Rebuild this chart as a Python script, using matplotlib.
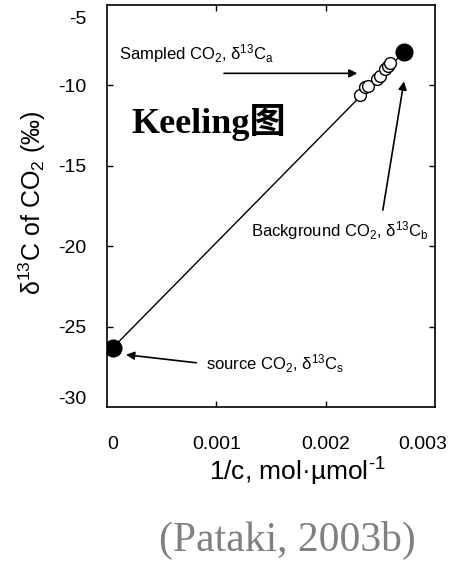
import matplotlib
matplotlib.use("Agg")
import matplotlib.pyplot as plt
from matplotlib.transforms import ScaledTranslation

plt.rcParams["font.family"] = ["Liberation Sans", "DejaVu Sans"]
plt.rcParams["mathtext.fontset"] = "custom"
plt.rcParams["mathtext.rm"] = "Liberation Sans"
plt.rcParams["mathtext.it"] = "Liberation Sans:italic"
plt.rcParams["mathtext.bf"] = "Liberation Sans:bold"

# Keeling plot: inverse concentration vs. isotope ratio
source_x = [0.000055]
source_y = [-26.3]
background_x = [0.00272]
background_y = [-7.9]
sample_x = [0.00231, 0.00236, 0.00239, 0.00247, 0.00250, 0.00254, 0.00257, 0.00259]
sample_y = [-10.6, -10.1, -10.05, -9.6, -9.4, -9.0, -8.8, -8.6]

xticks = [0, 0.001, 0.002, 0.003]
xtick_labels = ["0", "0.001", "0.002", "0.003"]
yticks = [-30, -25, -20, -15, -10, -5]
ytick_labels = ["-30", "-25", "-20", "-15", "-10", "-5"]

fig = plt.figure(figsize=(4.52, 5.66), dpi=100)
W, H = 452, 566
ax = fig.add_axes([107 / W, 1 - 407 / H, 328 / W, 402 / H])

# mixing line from source to background
ax.plot(source_x + background_x, source_y + background_y, color="black", lw=1, zorder=1)
ax.plot(sample_x, sample_y, "o", ms=8.5, mfc="white", mec="black", mew=1, zorder=2)
ax.plot(source_x + background_x, source_y + background_y, "o", ms=12,
        color="black", lw=0, zorder=3)

ax.set_xlim(0, 0.003)
ax.set_ylim(-30, -5)
ax.set_xticks(xticks, xtick_labels)
ax.set_yticks(yticks, ytick_labels)
ax.tick_params(direction="in", length=4, width=1, labelsize=14,
               top=True, right=True)
ax.tick_params(axis="x", pad=21)
ax.tick_params(axis="y", pad=15)
for s in ax.spines.values():
    s.set_linewidth(1.2)

# nudge end labels inward
fig.canvas.draw()
xl = ax.get_xticklabels()
yl = ax.get_yticklabels()
def shift(lab, dx, dy):
    lab.set_transform(lab.get_transform() + ScaledTranslation(dx / 72, dy / 72, fig.dpi_scale_trans))
shift(xl[0], 4, 0)
shift(xl[-1], -9, 0)
shift(yl[0], 0, 7)
shift(yl[-1], 0, -9)
# hide ticks coinciding with the spines
for t in ax.xaxis.get_major_ticks():
    if t.get_loc() in (0, 0.003):
        t.tick1line.set_visible(False)
        t.tick2line.set_visible(False)
for t in ax.yaxis.get_major_ticks():
    if t.get_loc() in (-30, -5):
        t.tick1line.set_visible(False)
        t.tick2line.set_visible(False)

fig.text(32 / W, 1 - 203 / H, r"δ$^{13}$C of CO$_2$ (‰)", rotation=90,
         ha="center", va="center", fontsize=18)
fig.text(297 / W, 1 - 472 / H, r"1/c, mol·µmol$^{\text{-1}}$",
         ha="center", va="center", fontsize=19)

arrow = dict(arrowstyle="-|>", color="black", lw=1.2, mutation_scale=12,
             shrinkA=0, shrinkB=0)
ax.text(0.00011, -8.0, r"Sampled CO$_2$, δ$^{13}$C$_\mathrm{a}$",
        ha="left", va="center", fontsize=12)
ax.annotate("", xy=(0.00229, -9.25), xytext=(0.00107, -9.25), arrowprops=arrow)

ax.text(0.00294, -19.0, r"Background CO$_2$, δ$^{13}$C$_\mathrm{b}$",
        ha="right", va="center", fontsize=12)
ax.annotate("", xy=(0.002716, -9.75), xytext=(0.002523, -17.75), arrowprops=arrow)

ax.text(0.00091, -27.3, r"source CO$_2$, δ$^{13}$C$_\mathrm{s}$",
        ha="left", va="center", fontsize=12)
ax.annotate("", xy=(0.000174, -26.75), xytext=(0.000817, -27.25), arrowprops=arrow)

ax.text(0.000927, -12.3, "Keeling图", ha="center", va="center", fontsize=26,
        fontweight="bold", family=["Liberation Serif", "Noto Sans CJK SC"])

fig.text(287 / W, 1 - 540 / H, "(Pataki, 2003b)", ha="center", va="center",
         fontsize=30, color="#808080", family="Liberation Serif")

fig.savefig("out.png", dpi=100)
